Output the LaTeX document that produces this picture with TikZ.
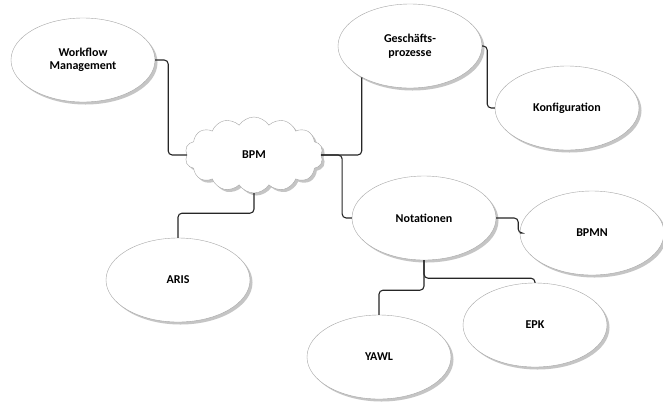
\documentclass[tikz,border=0pt]{standalone}
\usepackage{fontspec}
\setmainfont{Carlito}
\usetikzlibrary{shapes.geometric,shapes.symbols,shadows}

\tikzset{
  topic/.style={ellipse,draw=black!35,fill=white,minimum width=144pt,minimum height=84pt,
    font=\fontsize{12}{13.5}\selectfont\bfseries,align=center,
    drop shadow={shadow xshift=2.5pt,shadow yshift=-2.5pt,fill=black!45,opacity=0.5}},
  hub/.style={cloud,cloud puffs=14,cloud puff arc=115,aspect=1.9,draw=black!35,fill=white,
    minimum width=138pt,minimum height=76pt,inner sep=0pt,
    font=\fontsize{12}{13.5}\selectfont\bfseries,
    drop shadow={shadow xshift=2.5pt,shadow yshift=-2.5pt,fill=black!45,opacity=0.5}},
  link/.style={draw=black!85,line width=1.1pt,rounded corners=4pt}
}

\begin{document}
\begin{tikzpicture}[x=1pt,y=1pt]
	\useasboundingbox[fill=white] (0,0) rectangle (663,-405);

	% draw the cloud in the middle
	\node[hub] (bpm) at (254,-155) {BPM};

	% draw the topics round it
	\node[topic] (wm) at (83,-60) {Workflow\\Management};
	\node[topic] (gp) at (410,-46) {Gesch\"afts-\\prozesse};
	\node[topic] (konf) at (567,-108) {Konfiguration};
	\node[topic] (aris) at (178,-280) {ARIS};
	\node[topic] (not) at (424,-218) {Notationen};
	\node[topic] (bpmn) at (592,-233) {BPMN};
	\node[topic] (epk) at (535,-325) {EPK};
	\node[topic] (yawl) at (379,-357) {YAWL};

	% draw lines from the cloud
	\draw[link] (wm.east) -- ++(13,0) |- (bpm.west);
	\draw[link] (bpm.east) -| (gp.213.7);
	\draw[link] (bpm.east) -- ++(21,0) |- (not.west);
	\draw[link] (bpm.south) -- ++(0,-20) -| (aris.north);

	% draw lines to the sub topics
	\draw[link] (gp.east) -- ++(5,0) |- (konf.west);
	\draw[link] (not.east) -- ++(22,0) |- (bpmn.west);
	\draw[link] (not.south) -- ++(0,-30) -| (yawl.north);
	\draw[link] (not.south) -- ++(0,-18) -| (epk.north);
\end{tikzpicture}
\end{document}
